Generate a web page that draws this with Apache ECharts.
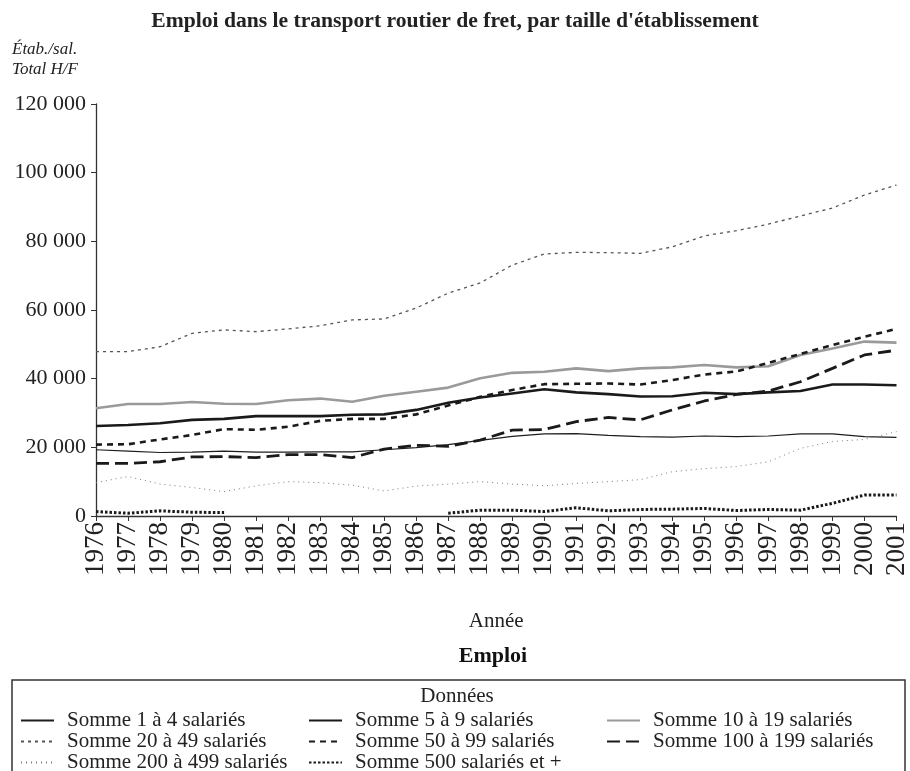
<!DOCTYPE html>
<html>
<head>
<meta charset="utf-8">
<title>Emploi dans le transport routier de fret</title>
<script src="https://cdn.jsdelivr.net/npm/echarts@6/dist/echarts.min.js"></script>
<style>
  html, body { margin: 0; padding: 0; background: #fff; }
  #chart { width: 910px; height: 771px; }
</style>
</head>
<body>
<div id="chart"></div>
<script>
// années (axe des x)
var years = ['1976','1977','1978','1979','1980','1981','1982','1983','1984','1985','1986','1987','1988',
             '1989','1990','1991','1992','1993','1994','1995','1996','1997','1998','1999','2000','2001'];

// emplois par taille d'établissement
var s1a4 = [19300,18900,18500,18600,18900,18600,18600,18700,18700,19300,19900,20800,22000,
            23200,23900,24000,23500,23100,23000,23300,23100,23300,23900,23900,23100,22900];
var s5a9 = [26200,26500,27000,28000,28300,29100,29100,29100,29500,29600,30900,33000,34500,
            35700,36900,36000,35500,34800,34900,35900,35500,36000,36400,38300,38300,38100];
var s10a19 = [31400,32600,32600,33200,32700,32600,33700,34200,33300,35000,36200,37400,40100,
              41700,42000,43000,42200,43000,43300,44000,43300,43600,46900,48800,50800,50500];
var s20a49 = [47900,47900,49300,53200,54200,53700,54500,55400,57100,57400,60600,64900,67900,
              73100,76300,76800,76700,76500,78400,81600,83100,85000,87400,89700,93500,96400];
var s50a99 = [20800,20900,22300,23600,25300,25100,26000,27700,28300,28300,29600,32200,34700,
              36700,38400,38500,38600,38300,39600,41200,42100,44600,47200,49800,52200,54500];
var s100a199 = [15300,15300,15800,17200,17300,17000,17900,17900,17000,19500,20600,20300,22100,
                25000,25200,27500,28700,28000,30900,33500,35400,36400,39100,43000,46900,48300];
var s200a499 = [9700,11500,9300,8300,7100,8800,10000,9700,9000,7300,8700,9300,10000,
                9300,8800,9500,10000,10600,12900,13800,14400,15800,19700,21700,22300,24600];
var s500plus = [1300,800,1500,1100,1000,null,null,null,null,null,null,800,1700,
                1700,1300,2400,1500,1900,2000,2200,1600,1900,1700,3700,6100,6100];

// étiquettes de l'axe des y
var yTicks = [0, 20000, 40000, 60000, 80000, 100000, 120000];

var serif = '"Liberation Serif", "DejaVu Serif", serif';

function fmt(v) {
    return String(v).replace(/\B(?=(\d{3})+(?!\d))/g, ' ');
}

function mkSeries(name, data, color, width, dash) {
    return {
        name: name,
        type: 'line',
        data: data,
        symbol: 'none',
        smooth: false,
        connectNulls: false,
        animation: false,
        lineStyle: { color: color, width: width, type: dash || 'solid', cap: 'butt' },
        itemStyle: { color: color }
    };
}

var series = [
    mkSeries('Somme 1 à 4 salariés', s1a4, '#1e1e1e', 1.2),
    mkSeries('Somme 5 à 9 salariés', s5a9, '#1a1a1a', 2.6),
    mkSeries('Somme 10 à 19 salariés', s10a19, '#9a9a9a', 2.6),
    mkSeries('Somme 20 à 49 salariés', s20a49, '#555555', 1.3, [3, 4]),
    mkSeries('Somme 50 à 99 salariés', s50a99, '#1a1a1a', 2.6, [6, 5]),
    mkSeries('Somme 100 à 199 salariés', s100a199, '#1a1a1a', 2.8, [13, 6]),
    mkSeries('Somme 200 à 499 salariés', s200a499, '#7a7a7a', 1, [1, 4]),
    mkSeries('Somme 500 salariés et +', s500plus, '#1a1a1a', 3, [2.5, 2])
];

// une légende par entrée, en grille 3 colonnes
var legCols = [20, 308, 606];
var legRows = [717, 738, 759];
var legends = series.map(function (s, i) {
    return {
        orient: 'horizontal',
        left: legCols[i % 3],
        top: legRows[Math.floor(i / 3)] - 7,
        itemWidth: 33,
        itemHeight: 14,
        selectedMode: false,
        padding: 0,
        data: [s.name],
        itemStyle: { opacity: 0 },
        textStyle: { fontFamily: serif, fontSize: 21, color: '#222', padding: [0, 0, 0, 8] }
    };
});

var chart = echarts.init(document.getElementById('chart'), null, { renderer: 'canvas' });

chart.setOption({
    backgroundColor: '#fff',
    animation: false,
    title: {
        text: "Emploi dans le transport routier de fret, par taille d'établissement",
        left: 'center',
        top: 5,
        textStyle: { fontFamily: serif, fontSize: 21.6, fontWeight: 'bold', color: '#222' }
    },
    grid: { left: 96, right: 12, top: 104, bottom: 255, containLabel: false },
    xAxis: {
        type: 'category',
        data: years,
        boundaryGap: false,
        name: 'Année',
        nameLocation: 'middle',
        nameGap: 95,
        nameTextStyle: { fontFamily: serif, fontSize: 21, color: '#222' },
        axisLine: { lineStyle: { color: '#333', width: 1.3 } },
        axisTick: { show: true, length: 5, lineStyle: { color: '#333' } },
        axisLabel: { rotate: 90, fontFamily: serif, fontSize: 27, color: '#222', margin: 6, interval: 0 },
        splitLine: { show: false }
    },
    yAxis: {
        type: 'value',
        min: yTicks[0],
        max: yTicks[yTicks.length - 1],
        interval: yTicks[1] - yTicks[0],
        name: 'Étab./sal.\nTotal H/F',
        nameLocation: 'end',
        nameGap: 24,
        nameTextStyle: { fontFamily: serif, fontSize: 17, fontStyle: 'italic', color: '#222', align: 'left', padding: [0, 0, 0, -84], lineHeight: 20 },
        axisLine: { show: true, lineStyle: { color: '#333', width: 1.3 } },
        axisTick: { show: true, length: 5, lineStyle: { color: '#333' } },
        axisLabel: { fontFamily: serif, fontSize: 22, color: '#222', margin: 10, formatter: fmt },
        splitLine: { show: false }
    },
    legend: legends,
    graphic: [
        {
            type: 'text', x: 493, y: 656,
            style: { text: 'Emploi', font: 'bold 22px ' + serif, fill: '#111', align: 'center', verticalAlign: 'middle' }
        },
        {
            type: 'rect', shape: { x: 12, y: 680, width: 893, height: 120 },
            style: { fill: 'none', stroke: '#333', lineWidth: 1.5 }
        },
        {
            type: 'text', x: 457, y: 696,
            style: { text: 'Données', font: '21px ' + serif, fill: '#222', align: 'center', verticalAlign: 'middle' }
        }
    ],
    series: series
});
</script>
</body>
</html>
